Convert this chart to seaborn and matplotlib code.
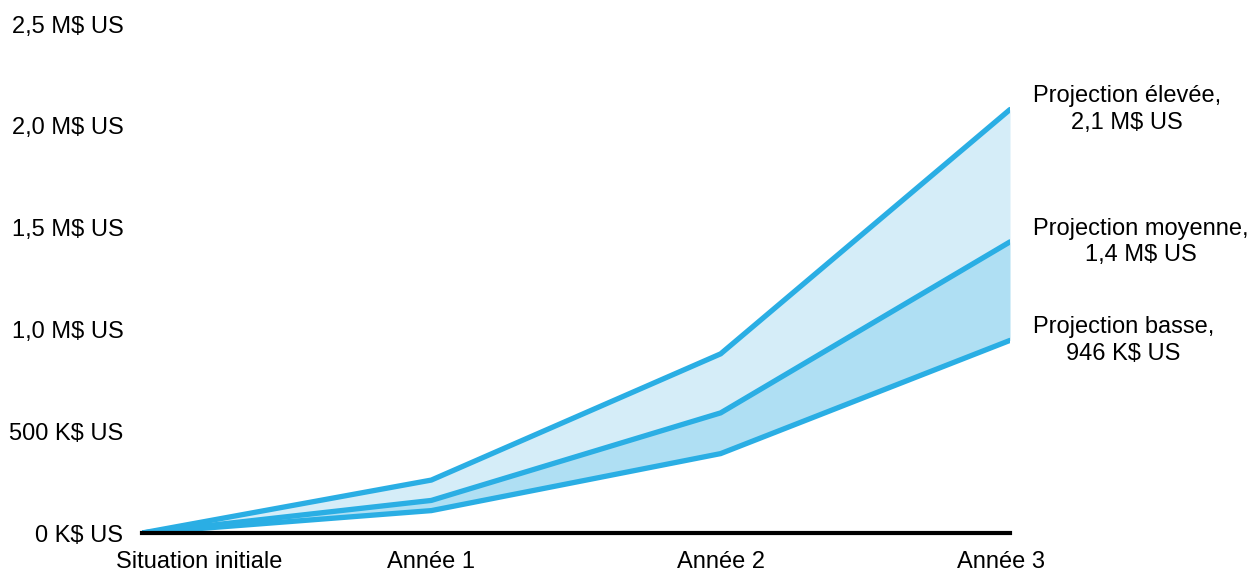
import matplotlib
matplotlib.use("Agg")
import matplotlib.pyplot as plt
import matplotlib.transforms as mtransforms
import seaborn as sns
import pandas as pd

categories = ["Situation initiale", "Année 1", "Année 2", "Année 3"]
high = [0.0, 0.26, 0.88, 2.08]
mid = [0.0, 0.16, 0.59, 1.43]
low = [0.0, 0.11, 0.39, 0.946]
yticks = [0, 0.5, 1.0, 1.5, 2.0, 2.5]
ytick_labels = ["0 K$ US", "500 K$ US", "1,0 M$ US", "1,5 M$ US", "2,0 M$ US", "2,5 M$ US"]
end_labels = ["Projection élevée,\n2,1 M$ US", "Projection moyenne,\n1,4 M$ US", "Projection basse,\n946 K$ US"]

sns.set_theme(style="white")
plt.rcParams['font.family'] = ['Liberation Sans', 'DejaVu Sans']

fig = plt.figure(figsize=(12.56, 5.71), dpi=100)
ax = fig.add_axes([142/1256, 1-533/571, (1010-142)/1256, (533-24)/571])

x = list(range(len(categories)))
df = pd.DataFrame({"x": x * 3, "v": high + mid + low,
                   "s": ["high"] * 4 + ["mid"] * 4 + ["low"] * 4})

line_color = "#2aaee4"
ax.fill_between(x, mid, high, color="#d5edf8", linewidth=0)
ax.fill_between(x, low, mid, color="#afdff3", linewidth=0)
sns.lineplot(data=df, x="x", y="v", units="s", estimator=None, color=line_color,
             linewidth=3.8, ax=ax, legend=False, solid_joinstyle="miter")

fs = 17
ax.set_xlim(0, 3)
ax.set_ylim(0, 2.5)
ax.set_xticks(x)
ax.set_xticklabels(categories, fontsize=fs)
ax.set_yticks(yticks)
ax.set_yticklabels(ytick_labels, fontsize=fs)
ax.tick_params(axis="both", length=0, colors="black")
ax.tick_params(axis="y", pad=13.5)
ax.tick_params(axis="x", pad=13)
ax.set_xlabel("")
ax.set_ylabel("")
for side in ["top", "right", "left"]:
    ax.spines[side].set_visible(False)
ax.spines["bottom"].set_color("black")
ax.spines["bottom"].set_linewidth(3)
ax.spines["bottom"].set_zorder(5)

# shift edge tick labels as in reference
shifts = {0: 57, 3: -9}
for i, lbl in enumerate(ax.get_xticklabels()):
    if i in shifts:
        off = mtransforms.ScaledTranslation(shifts[i] / 100, 0, fig.dpi_scale_trans)
        lbl.set_transform(lbl.get_transform() + off)

for lab, yv in zip(end_labels, [high[-1], mid[-1], low[-1]]):
    ax.annotate(lab, xy=(3, yv), xycoords="data", xytext=(23, 0), textcoords="offset pixels",
                ha="left", va="center", multialignment="center", fontsize=fs,
                color="black", linespacing=1.25, annotation_clip=False)

fig.savefig("out.png", dpi=100)
